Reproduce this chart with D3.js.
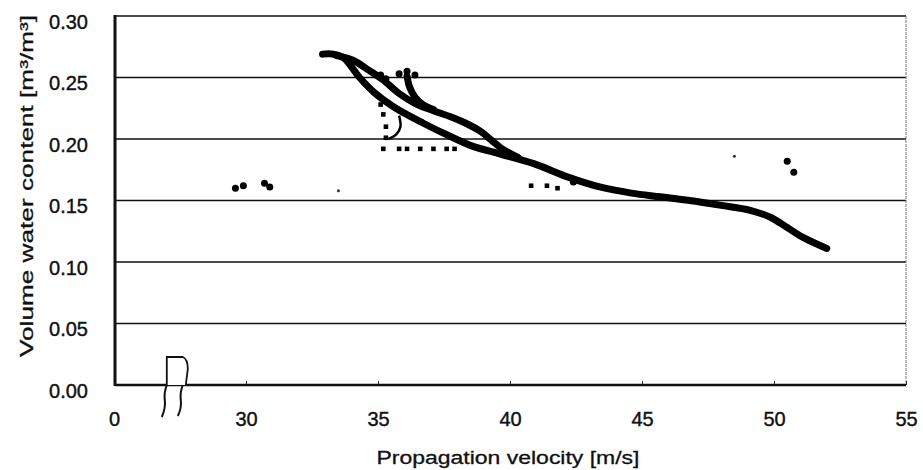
<!DOCTYPE html>
<html>
<head>
<meta charset="utf-8">
<script src="https://cdn.jsdelivr.net/npm/d3@7"></script>
<style>
  body { margin: 0; background: #fff; }
  text { font-family: "Liberation Sans", Arial, sans-serif; fill: #111; }
</style>
</head>
<body>
<svg id="chart" width="923" height="470"></svg>
<script>
// axis (the x axis is broken: the "0" tick stands where 25 would be)
const xTickValues = [25, 30, 35, 40, 45, 50, 55];
const xTickLabels = ["0", "30", "35", "40", "45", "50", "55"];
const yTickValues = [0, 0.05, 0.10, 0.15, 0.20, 0.25, 0.30];
const yTickLabels = ["0.00", "0.05", "0.10", "0.15", "0.20", "0.25", "0.30"];

// main long strand [velocity, water content]
const strandMain = [
    [32.9, 0.269], [33.3, 0.269], [33.7, 0.266], [34.3, 0.250], [34.9, 0.237],
    [35.6, 0.226], [36.7, 0.213], [37.75, 0.202], [38.6, 0.194], [39.6, 0.188],
    [40.9, 0.180], [42.2, 0.169], [43.4, 0.161], [44.6, 0.156], [45.7, 0.153],
    [46.8, 0.150], [48.0, 0.146], [49.1, 0.142], [49.9, 0.136], [50.5, 0.128],
    [51.1, 0.120], [52.0, 0.111]
];
// upper strand of the loop
const strandUpper = [
    [33.4, 0.268], [34.05, 0.264], [34.65, 0.256], [35.2, 0.248], [35.8, 0.237],
    [36.4, 0.229], [37.1, 0.223], [37.75, 0.218], [38.4, 0.212], [38.9, 0.206],
    [39.3, 0.199], [39.7, 0.192], [40.3, 0.185]
];
// short strand from the second cluster
const strandShort = [
    [36.1, 0.251], [36.2, 0.242], [36.4, 0.234], [36.7, 0.228], [37.1, 0.224]
];
// dotted series
const dotted = [
    [35.1, 0.228], [35.2, 0.220], [35.3, 0.210], [35.3, 0.201], [35.2, 0.192],
    [35.8, 0.192], [36.1, 0.192], [36.6, 0.192], [37.1, 0.192], [37.6, 0.192],
    [37.9, 0.192], [40.8, 0.162], [41.4, 0.162], [41.8, 0.160]
];
const dottedCurve = [[35.8, 0.219], [35.85, 0.210], [35.7, 0.204], [35.4, 0.200]];
// isolated points
const isolated = [
    [29.6, 0.160], [29.9, 0.162], [30.7, 0.164], [30.9, 0.161], [35.1, 0.252],
    [35.3, 0.249], [35.8, 0.253], [36.1, 0.255], [36.4, 0.252], [42.4, 0.165],
    [50.5, 0.182], [50.75, 0.173]
];
const faint = [[48.5, 0.186], [33.5, 0.158]];
const breakAt = 27.0;

const svg = d3.select("#chart");
const pLeft = 115, pRight = 906, pTop = 16, pBottom = 385;

const x = d3.scaleLinear().domain([25, 55]).range([114, 906]);
const y = d3.scaleLinear().domain([0, 0.30]).range([pBottom, pTop]);

// grid
svg.append("g")
    .selectAll("line")
    .data(yTickValues.filter(d => d > 0))
    .join("line")
    .attr("x1", pLeft).attr("x2", pRight)
    .attr("y1", d => y(d)).attr("y2", d => y(d))
    .attr("stroke", "#111")
    .attr("stroke-width", 1.6);

// right border
svg.append("line")
    .attr("x1", pRight).attr("x2", pRight).attr("y1", pTop).attr("y2", pBottom)
    .attr("stroke", "#777").attr("stroke-width", 1).attr("stroke-dasharray", "3,1");

// x axis
const xAxis = svg.append("g")
    .attr("transform", `translate(0,${pBottom})`)
    .call(d3.axisBottom(x).tickValues(xTickValues).tickSize(-4)
        .tickFormat((d, i) => xTickLabels[i]));
xAxis.select(".domain").remove();
xAxis.selectAll(".tick line").attr("stroke", "#333").attr("stroke-width", 1);
xAxis.selectAll(".tick text")
    .attr("y", 41).attr("dy", 0)
    .style("font-size", "20px")
    .style("font-family", "'Liberation Sans', Arial, sans-serif")
    .attr("stroke", "#111").attr("stroke-width", 0.4);

// y axis
const yAxis = svg.append("g")
    .attr("transform", `translate(${pLeft},0)`)
    .call(d3.axisLeft(y).tickValues(yTickValues).tickSize(0)
        .tickFormat((d, i) => yTickLabels[i]));
yAxis.select(".domain").remove();
yAxis.selectAll(".tick text")
    .attr("x", -27).attr("dy", "0.6em")
    .style("font-size", "20px")
    .style("font-family", "'Liberation Sans', Arial, sans-serif")
    .attr("stroke", "#111").attr("stroke-width", 0.4);

// axis lines
svg.append("line")
    .attr("x1", pLeft).attr("x2", pRight).attr("y1", pBottom).attr("y2", pBottom)
    .attr("stroke", "#111").attr("stroke-width", 2.5);
svg.append("line")
    .attr("x1", pLeft).attr("x2", pLeft).attr("y1", pTop - 1).attr("y2", pBottom + 1)
    .attr("stroke", "#111").attr("stroke-width", 3);

// axis break symbol
const bx = x(breakAt);
svg.append("path")
    .attr("d", `M${bx},${pBottom} L${bx},${pBottom - 28} L${bx + 16},${pBottom - 28} Q${bx + 21},${pBottom - 26} ${bx + 21},${pBottom - 16} L${bx + 19},${pBottom}`)
    .attr("fill", "#fff").attr("stroke", "#111").attr("stroke-width", 1.8);
svg.append("path")
    .attr("d", `M${bx},${pBottom} q-3,8 -2,15 q1,8 -3,17 M${bx + 16},${pBottom} q-3,8 -2,15 q1,8 -3,16`)
    .attr("fill", "none").attr("stroke", "#111").attr("stroke-width", 2);

// strands
const line = d3.line().x(d => x(d[0])).y(d => y(d[1])).curve(d3.curveCatmullRom);
const plot = svg.append("g");
[strandMain, strandUpper, strandShort].forEach(s => {
    plot.append("path")
        .datum(s)
        .attr("d", line)
        .attr("fill", "none")
        .attr("stroke", "#000")
        .attr("stroke-width", 7)
        .attr("stroke-linecap", "round")
        .attr("stroke-linejoin", "round");
});
plot.append("path")
    .datum(dottedCurve)
    .attr("d", line)
    .attr("fill", "none").attr("stroke", "#000").attr("stroke-width", 2.5);

plot.selectAll("rect.dot")
    .data(dotted)
    .join("rect")
    .attr("class", "dot")
    .attr("x", d => x(d[0]) - 2.3).attr("y", d => y(d[1]) - 2.3)
    .attr("width", 4.6).attr("height", 4.6)
    .attr("fill", "#000");

plot.selectAll("circle.iso")
    .data(isolated)
    .join("circle")
    .attr("class", "iso")
    .attr("cx", d => x(d[0])).attr("cy", d => y(d[1]))
    .attr("r", 3.5)
    .attr("fill", "#000");

plot.selectAll("circle.faint")
    .data(faint)
    .join("circle")
    .attr("class", "faint")
    .attr("cx", d => x(d[0])).attr("cy", d => y(d[1]))
    .attr("r", 1.5)
    .attr("fill", "#333");

// titles
svg.append("text")
    .attr("x", 508).attr("y", 464)
    .attr("text-anchor", "middle")
    .attr("textLength", 263).attr("lengthAdjust", "spacingAndGlyphs")
    .style("font-size", "18px")
    .attr("stroke", "#111").attr("stroke-width", 0.3)
    .text("Propagation velocity [m/s]");

svg.append("text")
    .attr("transform", "translate(33,186) rotate(-90)")
    .attr("text-anchor", "middle")
    .attr("textLength", 342).attr("lengthAdjust", "spacingAndGlyphs")
    .style("font-size", "19px")
    .attr("stroke", "#111").attr("stroke-width", 0.3)
    .text("Volume water content [m³/m³]");
</script>
</body>
</html>
